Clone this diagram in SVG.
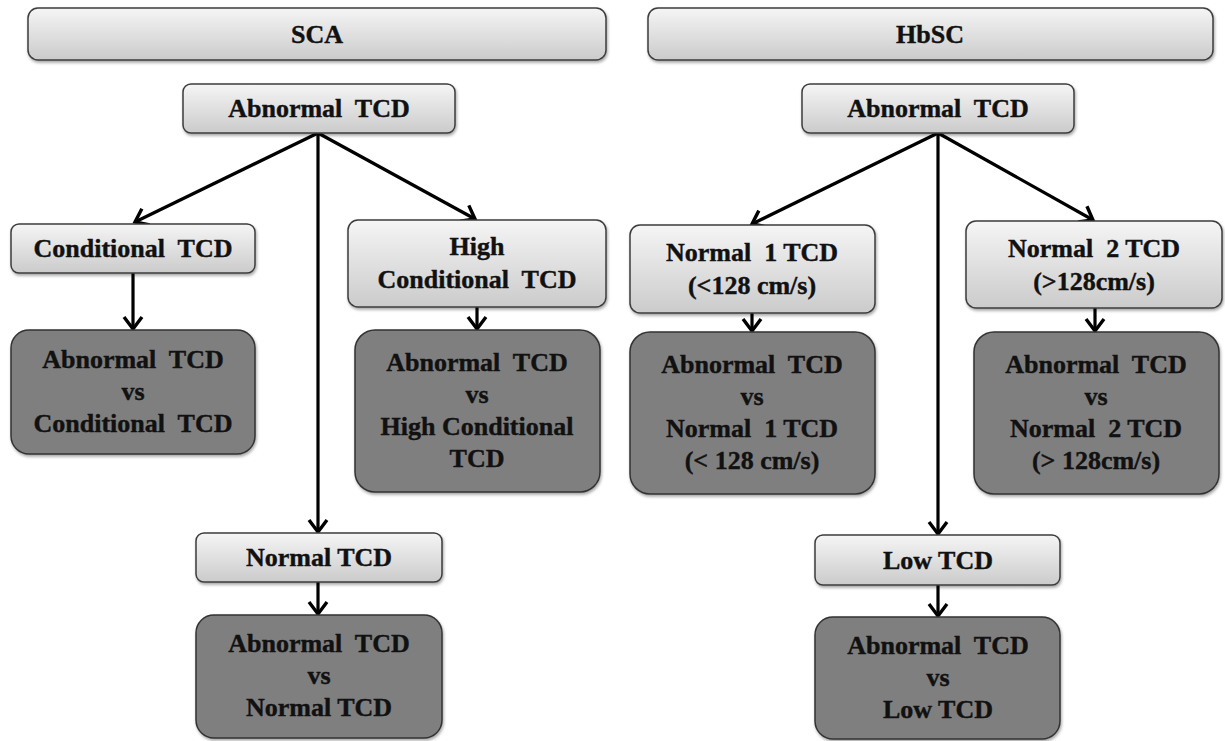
<svg xmlns="http://www.w3.org/2000/svg" width="1225" height="741" viewBox="0 0 1225 741">
<defs>
<linearGradient id="lg" x1="0" y1="0" x2="0" y2="1">
<stop offset="0" stop-color="#f5f5f5"/>
<stop offset="1" stop-color="#cbcbcb"/>
</linearGradient>
<filter id="sh" x="-5%" y="-10%" width="112%" height="130%">
<feDropShadow dx="1" dy="2" stdDeviation="1.5" flood-color="#000" flood-opacity="0.35"/>
</filter>
<marker id="ah" markerUnits="userSpaceOnUse" markerWidth="26" markerHeight="26" refX="15" refY="11" orient="auto" viewBox="0 0 26 26">
<path d="M3,2 L15,11 L3,20" fill="none" stroke="#000" stroke-width="3.4" stroke-linejoin="miter"/>
</marker>
</defs>
<style>
.lt{fill:url(#lg);stroke:#3c3c3c;stroke-width:1.5;filter:url(#sh)}
.dk{fill:#7f7f7f;stroke:#333;stroke-width:1.5;filter:url(#sh)}
text{font-family:"Liberation Serif","Times New Roman",serif;font-weight:bold;font-size:26px;fill:#111;stroke:#111;stroke-width:0.4;text-anchor:middle;white-space:pre}
.cn line{stroke:#000;stroke-width:3.2;marker-end:url(#ah)}
</style>
<rect width="1225" height="741" fill="#fff"/>

<g id="sca-header"><rect class="lt" x="28" y="8" width="578" height="52" rx="10"/><text x="317" y="43">SCA</text></g>
<g id="hbsc-header"><rect class="lt" x="648" y="8" width="565" height="52" rx="10"/><text x="930" y="43">HbSC</text></g>

<g class="cn" id="connectors">
<line x1="318" y1="133" x2="135" y2="222"/>
<line x1="318" y1="133" x2="475" y2="219"/>
<line x1="318" y1="133" x2="318" y2="532"/>
<line x1="133" y1="273" x2="133" y2="329"/>
<line x1="477" y1="307" x2="477" y2="329"/>
<line x1="318" y1="582" x2="318" y2="614"/>
<line x1="938" y1="133" x2="752" y2="224"/>
<line x1="938" y1="133" x2="1093" y2="220"/>
<line x1="938" y1="133" x2="938" y2="534"/>
<line x1="752" y1="313" x2="752" y2="331"/>
<line x1="1095" y1="308" x2="1095" y2="331"/>
<line x1="938" y1="585" x2="938" y2="616"/>
</g>

<g id="sca-abnormal"><rect class="lt" x="183" y="84" width="272" height="49" rx="8"/><text x="319" y="117">Abnormal  TCD</text></g>
<g id="sca-conditional"><rect class="lt" x="11" y="224" width="244" height="49" rx="8"/><text x="133" y="257">Conditional  TCD</text></g>
<g id="sca-highcond"><rect class="lt" x="348" y="220" width="258" height="87" rx="10"/><text x="477" y="255">High</text><text x="477" y="288">Conditional  TCD</text></g>
<g id="sca-normal"><rect class="lt" x="196" y="533" width="246" height="49" rx="8"/><text x="319" y="566">Normal TCD</text></g>

<g id="sca-cmp-cond"><rect class="dk" x="11" y="330" width="244" height="124" rx="18"/><text x="133" y="368">Abnormal  TCD</text><text x="133" y="400">vs</text><text x="133" y="432">Conditional  TCD</text></g>
<g id="sca-cmp-high"><rect class="dk" x="355" y="330" width="245" height="162" rx="20"/><text x="477" y="371">Abnormal  TCD</text><text x="477" y="403">vs</text><text x="477" y="435">High Conditional</text><text x="477" y="467">TCD</text></g>
<g id="sca-cmp-normal"><rect class="dk" x="196" y="615" width="246" height="123" rx="18"/><text x="319" y="652">Abnormal  TCD</text><text x="319" y="684">vs</text><text x="319" y="716">Normal TCD</text></g>

<g id="hbsc-abnormal"><rect class="lt" x="802" y="84" width="272" height="49" rx="8"/><text x="938" y="117">Abnormal  TCD</text></g>
<g id="hbsc-normal1"><rect class="lt" x="630" y="225" width="245" height="88" rx="10"/><text x="752" y="261">Normal  1 TCD</text><text x="752" y="294">(&lt;128 cm/s)</text></g>
<g id="hbsc-normal2"><rect class="lt" x="966" y="221" width="256" height="87" rx="10"/><text x="1094" y="257">Normal  2 TCD</text><text x="1094" y="290">(&gt;128cm/s)</text></g>
<g id="hbsc-low"><rect class="lt" x="815" y="535" width="245" height="50" rx="8"/><text x="938" y="569">Low TCD</text></g>

<g id="hbsc-cmp-n1"><rect class="dk" x="630" y="332" width="245" height="162" rx="20"/><text x="752" y="373">Abnormal  TCD</text><text x="752" y="405">vs</text><text x="752" y="437">Normal  1 TCD</text><text x="752" y="469">(&lt; 128 cm/s)</text></g>
<g id="hbsc-cmp-n2"><rect class="dk" x="974" y="332" width="245" height="162" rx="20"/><text x="1096" y="373">Abnormal  TCD</text><text x="1096" y="405">vs</text><text x="1096" y="437">Normal  2 TCD</text><text x="1096" y="469">(&gt; 128cm/s)</text></g>
<g id="hbsc-cmp-low"><rect class="dk" x="815" y="617" width="245" height="122" rx="18"/><text x="938" y="654">Abnormal  TCD</text><text x="938" y="686">vs</text><text x="938" y="718">Low TCD</text></g>
</svg>
